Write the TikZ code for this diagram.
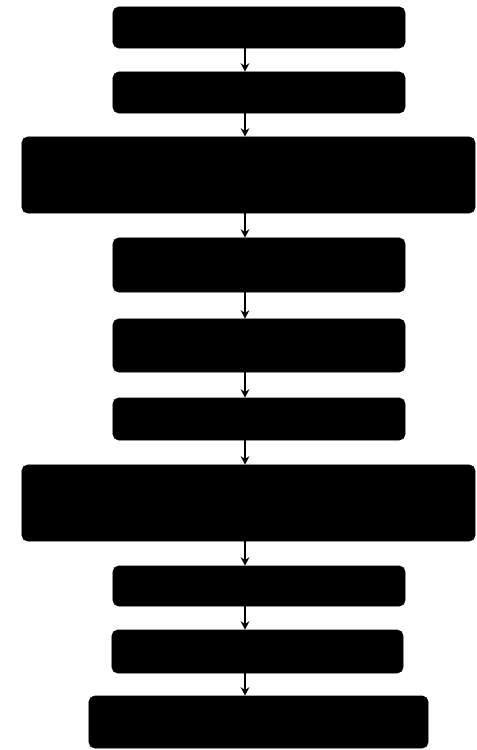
\documentclass[tikz,border=0pt]{standalone}
\usepackage{tikz}
\usetikzlibrary{arrows.meta}

\begin{document}
\begin{tikzpicture}[x=0.025cm, y=-0.025cm,
          blk/.style={rectangle, rounded corners=4pt, fill=black,
                      draw=black, inner sep=0pt},
          flow/.style={-{Stealth[length=6pt, width=6pt]}, black, line width=1.3pt}
        ]
        \useasboundingbox (0,0) rectangle (477,750);
        % Boxes
        \node[blk, minimum width=7.3cm,   minimum height=1.025cm] (b1)  at (259,   27.5) {};
        \node[blk, minimum width=7.3cm,   minimum height=1.025cm] (b2)  at (259,   92.5) {};
        \node[blk, minimum width=11.325cm, minimum height=1.9cm]  (b3)  at (248.5, 175)  {};
        \node[blk, minimum width=7.3cm,   minimum height=1.35cm]  (b4)  at (259,   265)  {};
        \node[blk, minimum width=7.3cm,   minimum height=1.325cm] (b5)  at (259,   345.5){};
        \node[blk, minimum width=7.3cm,   minimum height=1.05cm]  (b6)  at (259,   419)  {};
        \node[blk, minimum width=11.325cm, minimum height=1.9cm]  (b7)  at (248.5, 503)  {};
        \node[blk, minimum width=7.3cm,   minimum height=1.0cm]   (b8)  at (259,   586)  {};
        \node[blk, minimum width=7.275cm, minimum height=1.075cm] (b9)  at (257.5, 651.5){};
        \node[blk, minimum width=8.475cm, minimum height=1.3cm]   (b10) at (258.5, 722)  {};
        % Arrow axis
        \coordinate (ax) at (245,0);

        % Arrows
        \foreach \a/\b in {b1/b2, b2/b3, b3/b4, b4/b5, b5/b6, b6/b7, b7/b8, b8/b9, b9/b10}
          \draw[flow] (\a.south -| ax) -- (\b.north -| ax);
      \end{tikzpicture}
\end{document}
